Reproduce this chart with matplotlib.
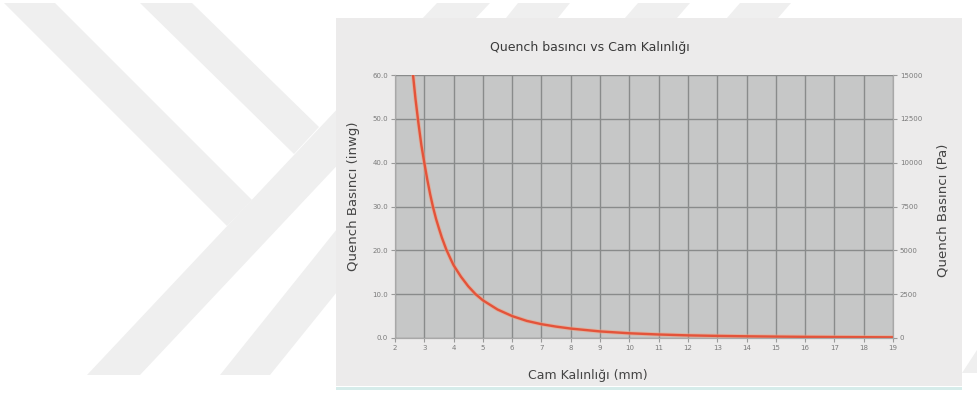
import matplotlib
matplotlib.use("Agg")
import matplotlib.pyplot as plt
from matplotlib.patches import Polygon, Rectangle

# ---- data ----
thickness_mm = [2.55, 2.6, 2.7, 2.8, 2.9, 3.0, 3.1, 3.2, 3.3, 3.4, 3.5, 3.6, 3.75, 3.9,
                4.0, 4.25, 4.5, 4.75, 5.0, 5.5, 6.0, 6.5, 7.0, 7.5, 8.0, 9.0, 10, 11,
                12, 13, 14, 15, 16, 17, 18, 19]
pressure_inwg = [65.0, 61.0, 54.5, 49.0, 44.0, 40.0, 36.2, 32.8, 29.8, 27.2, 25.0, 22.9,
                 20.2, 18.0, 16.6, 14.0, 11.8, 10.0, 8.6, 6.5, 5.0, 3.9, 3.15, 2.6, 2.15,
                 1.5, 1.08, 0.8, 0.6, 0.48, 0.39, 0.32, 0.26, 0.22, 0.19, 0.16]
x_ticks = list(range(2, 20))
y_ticks_inwg = [0, 10, 20, 30, 40, 50, 60]
y_ticks_pa = [0, 2500, 5000, 7500, 10000, 12500, 15000]

title = "Quench basıncı vs Cam Kalınlığı"
xlabel = "Cam Kalınlığı (mm)"
ylabel_left = "Quench Basıncı (inwg)"
ylabel_right = "Quench Basıncı (Pa)"

W, H = 977, 394
fig = plt.figure(figsize=(W / 100, H / 100), dpi=100)
fig.patch.set_facecolor("white")


def px(x, y):
    return (x / W, 1 - y / H)


# faint watermark chevrons behind the chart
wm = "#efefef"
shapes = [
    [(4, 3), (55, 3), (252, 200), (227, 226)],
    [(140, 3), (192, 3), (319, 127), (294, 154)],
    [(87, 375), (140, 375), (490, 3), (437, 3)],
    [(220, 375), (270, 375), (570, 3), (518, 3)],
    [(625, 18), (677, 18), (690, 3), (638, 3)],
    [(727, 18), (778, 18), (791, 3), (740, 3)],
    [(962, 373), (977, 373), (977, 350)],
]
for s in shapes:
    fig.add_artist(Polygon([px(*p) for p in s], closed=True, transform=fig.transFigure,
                           facecolor=wm, edgecolor="none", zorder=0))

# chart panel
x0, y0 = px(336, 386)
x1, y1 = px(962, 18)
fig.add_artist(Rectangle((x0, y0), x1 - x0, y1 - y0, transform=fig.transFigure,
                         facecolor="#ecebeb", edgecolor="none", zorder=1))
tx0, ty0 = px(336, 390)
fig.add_artist(Rectangle((tx0, ty0), x1 - x0, 3 / H, transform=fig.transFigure,
                         facecolor="#d6ecea", edgecolor="none", zorder=1))

left, right = 395 / W, 893 / W
bottom, top = 1 - 338 / H, 1 - 75 / H
ax = fig.add_axes([left, bottom, right - left, top - bottom])
ax.set_zorder(3)
ax.set_facecolor("#c6c7c7")

ax.plot(thickness_mm, pressure_inwg, color="#f0a080", lw=3.0, alpha=0.55,
        solid_capstyle="butt", zorder=3)
ax.plot(thickness_mm, pressure_inwg, color="#e4533a", lw=1.7, zorder=4)

ax.set_xlim(2, 19)
ax.set_ylim(0, 60)
ax.set_xticks(x_ticks)
ax.set_yticks(y_ticks_inwg)
ax.set_yticklabels([f"{v:.1f}" for v in y_ticks_inwg])
ax.grid(True, color="#898b8b", lw=1.0)
ax.set_axisbelow(True)

tick_col = "#7a7a7a"
ax.tick_params(axis="both", labelsize=5, colors="#9a9a9a", labelcolor=tick_col,
               length=3, width=0.8, pad=2)
for side in ["left", "bottom", "right"]:
    ax.spines[side].set_color("#a8a8a8")
    ax.spines[side].set_linewidth(0.8)
ax.spines["top"].set_visible(False)

ax2 = ax.twinx()
ax2.set_ylim(0, 15000)
ax2.set_yticks(y_ticks_pa)
ax2.set_yticklabels([str(v) for v in y_ticks_pa])
ax2.tick_params(axis="y", labelsize=5, colors="#9a9a9a", labelcolor=tick_col,
                length=3, width=0.8, pad=2)
for side in ["left", "bottom", "right"]:
    ax2.spines[side].set_color("#a8a8a8")
    ax2.spines[side].set_linewidth(0.8)
ax2.spines["top"].set_visible(False)

lab_col = "#444444"
fig.text(590 / W, 1 - 47 / H, title, ha="center", va="center", fontsize=9,
         color="#3a3a3a")
fig.text(588 / W, 1 - 376 / H, xlabel, ha="center", va="center", fontsize=9,
         color=lab_col)
fig.text(353 / W, 1 - 196 / H, ylabel_left, ha="center", va="center", fontsize=9.5,
         rotation=90, color=lab_col)
fig.text(943 / W, 1 - 210 / H, ylabel_right, ha="center", va="center", fontsize=9.5,
         rotation=90, color=lab_col)

fig.savefig("out.png", dpi=100, facecolor=fig.get_facecolor())
